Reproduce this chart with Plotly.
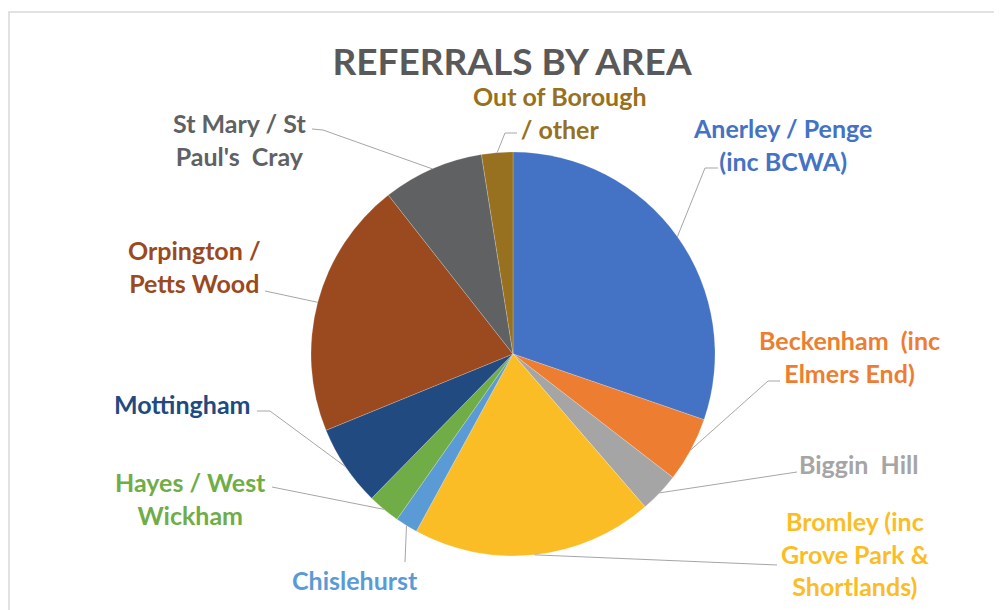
import math
import plotly.graph_objects as go

# referral share by area (percent), clockwise from 12 o'clock
areas = ['Anerley / Penge (inc BCWA)', 'Beckenham (inc Elmers End)', 'Biggin Hill',
         'Bromley (inc Grove Park & Shortlands)', 'Chislehurst', 'Hayes / West Wickham',
         'Mottingham', 'Orpington / Petts Wood', "St Mary / St Paul's Cray",
         'Out of Borough / other']
shares = [30.3, 5.2, 3.2, 19.3, 1.8, 2.6, 6.5, 20.6, 8.1, 2.5]
colors = ['#4472C4', '#ED7D31', '#A5A5A5', '#FBBD26', '#5B9BD5',
          '#70AD47', '#204A80', '#9A4A1E', '#5F6163', '#977020']
label_text = ['Anerley / Penge<br>(inc BCWA)', 'Beckenham  (inc<br>Elmers End)', 'Biggin  Hill',
              'Bromley (inc<br>Grove Park &<br>Shortlands)', 'Chislehurst', 'Hayes / West<br>Wickham',
              'Mottingham', 'Orpington /<br>Petts Wood', "St Mary / St<br>Paul's  Cray",
              'Out of Borough<br>/ other']

W, H = 1002, 610
OFF = 8  # default page margin of the html body
CX, CY, R = 513, 354, 202

# label centre and leader-line bend points (page pixels)
label_pos = [(782, 144), (849, 356), (858, 464), (855, 553), (355, 580),
             (190, 498), (182, 404), (194, 266), (239, 139), (560, 112)]
leader_pts = [
    [(705, 168), (718, 168)],
    [(768, 381), (780, 381)],
    [(797, 472)],
    [(777, 565)],
    [(405, 562)],
    [(272, 487)],
    [(270, 411), (257, 411)],
    [(265, 291)],
    [(323, 130), (312, 129)],
    [(505, 133), (517, 133)],
]


def px(x):
    return (x - OFF) / W


def py(y):
    return 1 - (y - OFF) / H


fig = go.Figure(go.Pie(
    labels=areas,
    values=shares,
    sort=False,
    direction='clockwise',
    rotation=0,
    textinfo='none',
    hoverinfo='label+percent',
    marker=dict(colors=colors, line=dict(color='rgba(255,255,255,0.4)', width=0.5)),
    domain=dict(x=[px(CX - R), px(CX + R)], y=[py(CY + R), py(CY - R)]),
    showlegend=False,
))

total = sum(shares)
cum = 0
for i, v in enumerate(shares):
    mid = (cum + v / 2) / total * 2 * math.pi
    cum += v
    sx = CX + R * math.sin(mid)
    sy = CY - R * math.cos(mid)
    pts = [(sx, sy)] + leader_pts[i]
    path = 'M ' + ' L '.join(f'{px(x):.5f},{py(y):.5f}' for x, y in pts)
    fig.add_shape(type='path', path=path, xref='paper', yref='paper',
                  line=dict(color='#A6A6A6', width=1))
    lx, ly = label_pos[i]
    fig.add_annotation(x=px(lx), y=py(ly), xref='paper', yref='paper',
                       text=label_text[i], showarrow=False, align='center',
                       xanchor='center', yanchor='middle',
                       font=dict(family='Lato', size=25, color=colors[i], weight='bold'))

# chart border
fig.add_shape(type='rect', xref='paper', yref='paper',
              x0=px(9), y0=py(12), x1=px(1015), y1=py(625),
              line=dict(color='#D9D9D9', width=1.5))

fig.update_layout(
    width=W, height=H,
    margin=dict(l=0, r=0, t=0, b=0),
    paper_bgcolor='white',
    title=dict(text='<b>REFERRALS BY AREA</b>', x=px(512), y=py(62), xanchor='center', yanchor='middle',
               font=dict(family='Lato', size=37, color='#595959')),
)

fig.write_html("out.html")
